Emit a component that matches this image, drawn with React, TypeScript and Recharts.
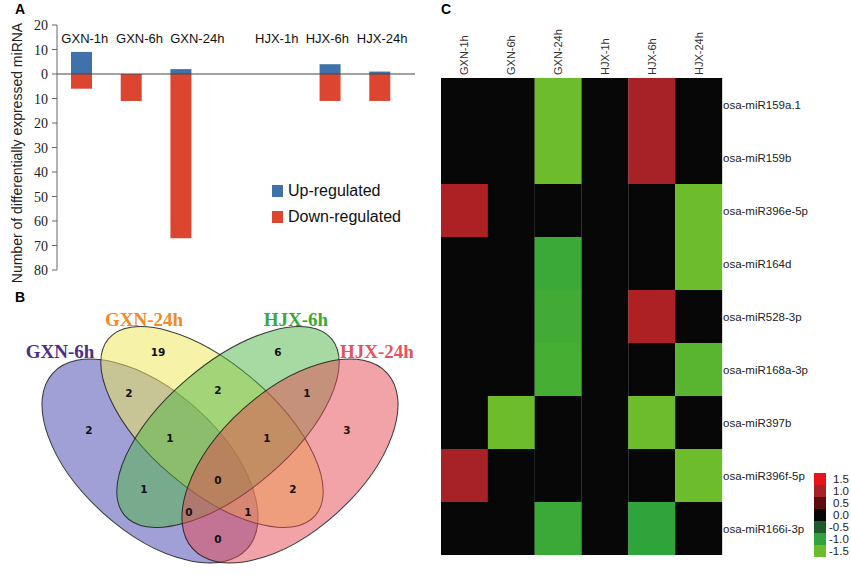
import React from 'react'
import {
  BarChart, Bar, XAxis, YAxis, ReferenceLine, Legend, Cell,
  ScatterChart, Scatter,
} from 'recharts'

// ---------- A: differentially expressed miRNA counts ----------
const SAMPLES = ['GXN-1h', 'GXN-6h', 'GXN-24h', ' ', 'HJX-1h', 'HJX-6h', 'HJX-24h']
const UP_REGULATED = [9, 0, 2, 0, 0, 4, 1]
const DOWN_REGULATED = [6, 11, 67, 0, 0, 11, 11]
const COUNT_TICKS = [20, 10, 0, -10, -20, -30, -40, -50, -60, -70, -80]

// ---------- B: Venn of down-regulated sets ----------
const VENN_SETS = ['GXN-6h', 'GXN-24h', 'HJX-6h', 'HJX-24h']
const VENN_REGIONS = ['A', 'B', 'C', 'D', 'AB', 'BC', 'CD', 'ABC', 'BCD', 'AC', 'ABCD', 'BD', 'ACD', 'ABD', 'AD']
const VENN_COUNTS = [2, 19, 6, 3, 2, 2, 1, 1, 1, 1, 0, 2, 0, 1, 0]

// ---------- C: heatmap ----------
const HEAT_COLUMNS = ['GXN-1h', 'GXN-6h', 'GXN-24h', 'HJX-1h', 'HJX-6h', 'HJX-24h']
const MIRNAS = [
  'osa-miR159a.1', 'osa-miR159b', 'osa-miR396e-5p', 'osa-miR164d', 'osa-miR528-3p',
  'osa-miR168a-3p', 'osa-miR397b', 'osa-miR396f-5p', 'osa-miR166i-3p',
]
const FOLD_CHANGE = [
  [0, 0, -1.5, 0, 1.0, 0],
  [0, 0, -1.5, 0, 1.0, 0],
  [1.05, 0, 0, 0, 0, -1.5],
  [0, 0, -1.1, 0, 0, -1.5],
  [0, 0, -1.15, 0, 1.05, 0],
  [0, 0, -1.2, 0, 0, -1.35],
  [0, -1.5, 0, 0, -1.5, 0],
  [1.0, 0, 0, 0, 0, -1.5],
  [0, 0, -1.1, 0, -1.0, 0],
]
const SCALE_LABELS = ['1.5', '1.0', '0.5', '0.0', '-0.5', '-1.0', '-1.5']

// ---------- styling / layout ----------
const BLUE = '#3f72aa'
const RED = '#dc4631'
const SANS = '"Liberation Sans", Arial, sans-serif'
const SERIF = '"Liberation Serif", "Times New Roman", serif'

// the sample names sit a little off their bars in the original
const SAMPLE_LABEL_DX = [3, 8, 16, 0, -4, -3, 2]

const HEAT_STOPS: [number, string][] = [
  [1.5, '#e8141c'], [1.0, '#a62226'], [0.5, '#5c0c0c'], [0, '#070707'],
  [-0.5, '#1f5a2a'], [-1.0, '#2ea43a'], [-1.5, '#6cbc2c'],
]

const hex = (c: string) => [1, 3, 5].map((i) => parseInt(c.slice(i, i + 2), 16))

function heatColor(v: number) {
  for (let i = 0; i < HEAT_STOPS.length - 1; i++) {
    const [v0, c0] = HEAT_STOPS[i]
    const [v1, c1] = HEAT_STOPS[i + 1]
    if (v <= v0 && v >= v1) {
      const t = (v0 - v) / (v0 - v1)
      const a = hex(c0), b = hex(c1)
      const m = a.map((x, k) => Math.round(x + (b[k] - x) * t))
      return `rgb(${m[0]},${m[1]},${m[2]})`
    }
  }
  return v > 0 ? HEAT_STOPS[0][1] : HEAT_STOPS[HEAT_STOPS.length - 1][1]
}

// ellipse layout of the 4-set venn (page px)
const VENN_ELLIPSES = [
  { x: 150, y: 461, a: 131, b: 70, angle: 42, fill: '#4141ad' },
  { x: 212, y: 427, a: 136, b: 63, angle: 40.5, fill: '#ede753' },
  { x: 228, y: 427, a: 136, b: 63, angle: -40.5, fill: '#4fb646' },
  { x: 290, y: 461, a: 131, b: 70, angle: -42, fill: '#e54751' },
]
const VENN_TITLES = [
  { x: 60, y: 351, color: '#4b2d8a' },
  { x: 144, y: 319, color: '#f28a26' },
  { x: 296, y: 319, color: '#3aaa35' },
  { x: 377, y: 351, color: '#e8525c' },
]
const REGION_POS: Record<string, [number, number]> = {
  A: [89, 430], B: [158, 352], C: [278, 352], D: [347, 430],
  AB: [129, 393], BC: [218, 390], CD: [307, 393],
  ABC: [170, 438], BCD: [267, 438], AC: [144, 489], ABCD: [218, 480],
  BD: [293, 489], ACD: [189, 512], ABD: [248, 512], AD: [218, 539],
}

const barData = SAMPLES.map((name, i) => ({ name, up: UP_REGULATED[i], down: -DOWN_REGULATED[i] }))

const heatData = HEAT_COLUMNS.map((name) => {
  const row: Record<string, any> = { name }
  MIRNAS.forEach((_, i) => { row[`r${i}`] = 1 })
  return row
})

const ellipseData = VENN_SETS.map((name, i) => ({ name, ...VENN_ELLIPSES[i] }))
const titleData = VENN_SETS.map((name, i) => ({ name, ...VENN_TITLES[i] }))
const regionData = VENN_REGIONS.map((r, i) => ({ region: r, count: VENN_COUNTS[i], x: REGION_POS[r][0], y: REGION_POS[r][1] }))

const SampleTick = ({ x, payload, index }: any) => (
  <text x={x + (SAMPLE_LABEL_DX[index] ?? 0)} y={43} textAnchor="middle" fontSize={13} fill="#111" fontFamily={SANS}>
    {payload.value}
  </text>
)

const CountTick = ({ x, y, payload }: any) => (
  <text x={x} y={y} dy={5} textAnchor="end" fontSize={14} fill="#222" fontFamily={SERIF}>
    {Math.abs(payload.value)}
  </text>
)

const ColumnTick = ({ x, payload }: any) => (
  <text transform={`translate(${x + 4},75) rotate(-90)`} textAnchor="start" fontSize={11} fill="#333" fontFamily={SANS}>
    {payload.value}
  </text>
)

const RowTick = ({ x, y, payload }: any) => (
  <text x={x} y={y} dy={4} textAnchor="start" fontSize={11.5} fill="#222" fontFamily={SANS}>
    {MIRNAS[Math.floor(payload.value)]}
  </text>
)

const BarLegend = () => (
  <div style={{ fontFamily: SANS, fontSize: 16, color: '#111', lineHeight: '26px' }}>
    {[['Up-regulated', BLUE], ['Down-regulated', RED]].map(([label, c]) => (
      <div key={label} style={{ display: 'flex', alignItems: 'center' }}>
        <span style={{ width: 11, height: 12, background: c, marginRight: 5, display: 'inline-block' }} />
        {label}
      </div>
    ))}
  </div>
)

const HeatLegend = () => (
  <svg width={37} height={86}>
    {SCALE_LABELS.map((l, i) => (
      <g key={l}>
        <rect x={0} y={i * 12} width={12} height={12} fill={heatColor(parseFloat(l))} />
        <text x={15 + (l.startsWith('-') ? 0 : 4)} y={10 + i * 12} fontSize={11.5} fill="#222" fontFamily={SANS}>{l}</text>
      </g>
    ))}
  </svg>
)

// venn ellipse drawn around the scatter point
const EllipseShape = ({ cx, cy, payload }: any) => (
  <ellipse
    cx={cx} cy={cy} rx={payload.a} ry={payload.b}
    transform={`rotate(${payload.angle} ${cx} ${cy})`}
    fill={payload.fill} fillOpacity={0.5} stroke="#1a1a1a" strokeOpacity={0.85} strokeWidth={1}
  />
)

const TitleShape = ({ cx, cy, payload }: any) => (
  <text x={cx} y={cy} textAnchor="middle" dominantBaseline="central" fontSize={19} fontWeight="bold" fill={payload.color} fontFamily={SERIF}>
    {payload.name}
  </text>
)

const CountShape = ({ cx, cy, payload }: any) => (
  <text x={cx} y={cy} textAnchor="middle" dominantBaseline="central" fontSize={10.5} fontWeight="bold" fill="#111" fontFamily='"DejaVu Sans", sans-serif'>
    {payload.count}
  </text>
)

const panelLabel = (t: string, left: number, top: number) => (
  <div style={{ position: 'absolute', left, top, fontFamily: SANS, fontWeight: 'bold', fontSize: 14, lineHeight: '14px' }}>{t}</div>
)

export default function App() {
  return (
    <div style={{ position: 'absolute', left: 0, top: 0, width: 851, height: 575, background: '#fff', overflow: 'hidden' }}>
      {/* A */}
      <div style={{ position: 'absolute', left: 0, top: 0 }}>
        <BarChart width={420} height={285} data={barData} stackOffset="sign" margin={{ top: 5, right: 5, bottom: 15, left: 0 }}>
          <XAxis dataKey="name" orientation="top" height={20} axisLine={false} tickLine={false} interval={0}
            tick={<SampleTick />} padding={{ left: 0, right: 10 }} />
          <YAxis type="number" domain={[-80, 20]} ticks={COUNT_TICKS} interval={0} width={57}
            tick={<CountTick />}
            axisLine={{ stroke: '#666' }} tickLine={{ stroke: '#666' }} tickSize={5} tickMargin={4}
            label={{
              content: () => (
                <text transform="translate(22,153) rotate(-90)" textAnchor="middle" fontSize={14} fill="#222" fontFamily={SANS}>
                  Number of differentially expressed miRNA
                </text>
              ),
            }} />
          <ReferenceLine y={0} stroke="#444" strokeWidth={1} />
          <Bar dataKey="up" stackId="s" fill={BLUE} barSize={21} isAnimationActive={false} />
          <Bar dataKey="down" stackId="s" fill={RED} barSize={21} isAnimationActive={false} />
          <Legend layout="horizontal" verticalAlign="middle" content={<BarLegend />}
            wrapperStyle={{ position: 'absolute', left: 272, top: 178, width: 'auto' }} />
        </BarChart>
      </div>

      {/* B */}
      <div style={{ position: 'absolute', left: 0, top: 285 }}>
        <ScatterChart width={440} height={290} margin={{ top: 0, right: 0, bottom: 0, left: 0 }}>
          <XAxis type="number" dataKey="x" domain={[0, 440]} hide />
          <YAxis type="number" dataKey="y" domain={[285, 575]} reversed hide />
          <Scatter data={ellipseData} shape={<EllipseShape />} isAnimationActive={false} />
          <Scatter data={regionData} shape={<CountShape />} isAnimationActive={false} />
          <Scatter data={titleData} shape={<TitleShape />} isAnimationActive={false} />
        </ScatterChart>
      </div>

      {/* C */}
      <div style={{ position: 'absolute', left: 420, top: 0 }}>
        <BarChart width={431} height={575} data={heatData} barCategoryGap={0} barGap={0}
          margin={{ top: 48, right: 29, bottom: 20, left: 21 }}>
          <XAxis dataKey="name" orientation="top" height={30} axisLine={false} tickLine={false} interval={0} tick={<ColumnTick />} />
          <YAxis type="number" domain={[0, 9]} reversed orientation="right" width={100}
            ticks={MIRNAS.map((_, i) => i + 0.5)} interval={0}
            axisLine={false} tickLine={false} tickSize={0} tickMargin={1}
            tick={<RowTick />} />
          {MIRNAS.map((m, i) => (
            <Bar key={m} dataKey={`r${i}`} stackId="h" isAnimationActive={false}>
              {HEAT_COLUMNS.map((c, j) => (
                <Cell key={c} fill={heatColor(FOLD_CHANGE[i][j])} />
              ))}
            </Bar>
          ))}
          <Legend layout="horizontal" verticalAlign="middle" content={<HeatLegend />}
            wrapperStyle={{ position: 'absolute', left: 394, top: 473, width: 'auto' }} />
        </BarChart>
      </div>

      {panelLabel('A', 15, 2)}
      {panelLabel('B', 15, 290)}
      {panelLabel('C', 441, 2)}
    </div>
  )
}
